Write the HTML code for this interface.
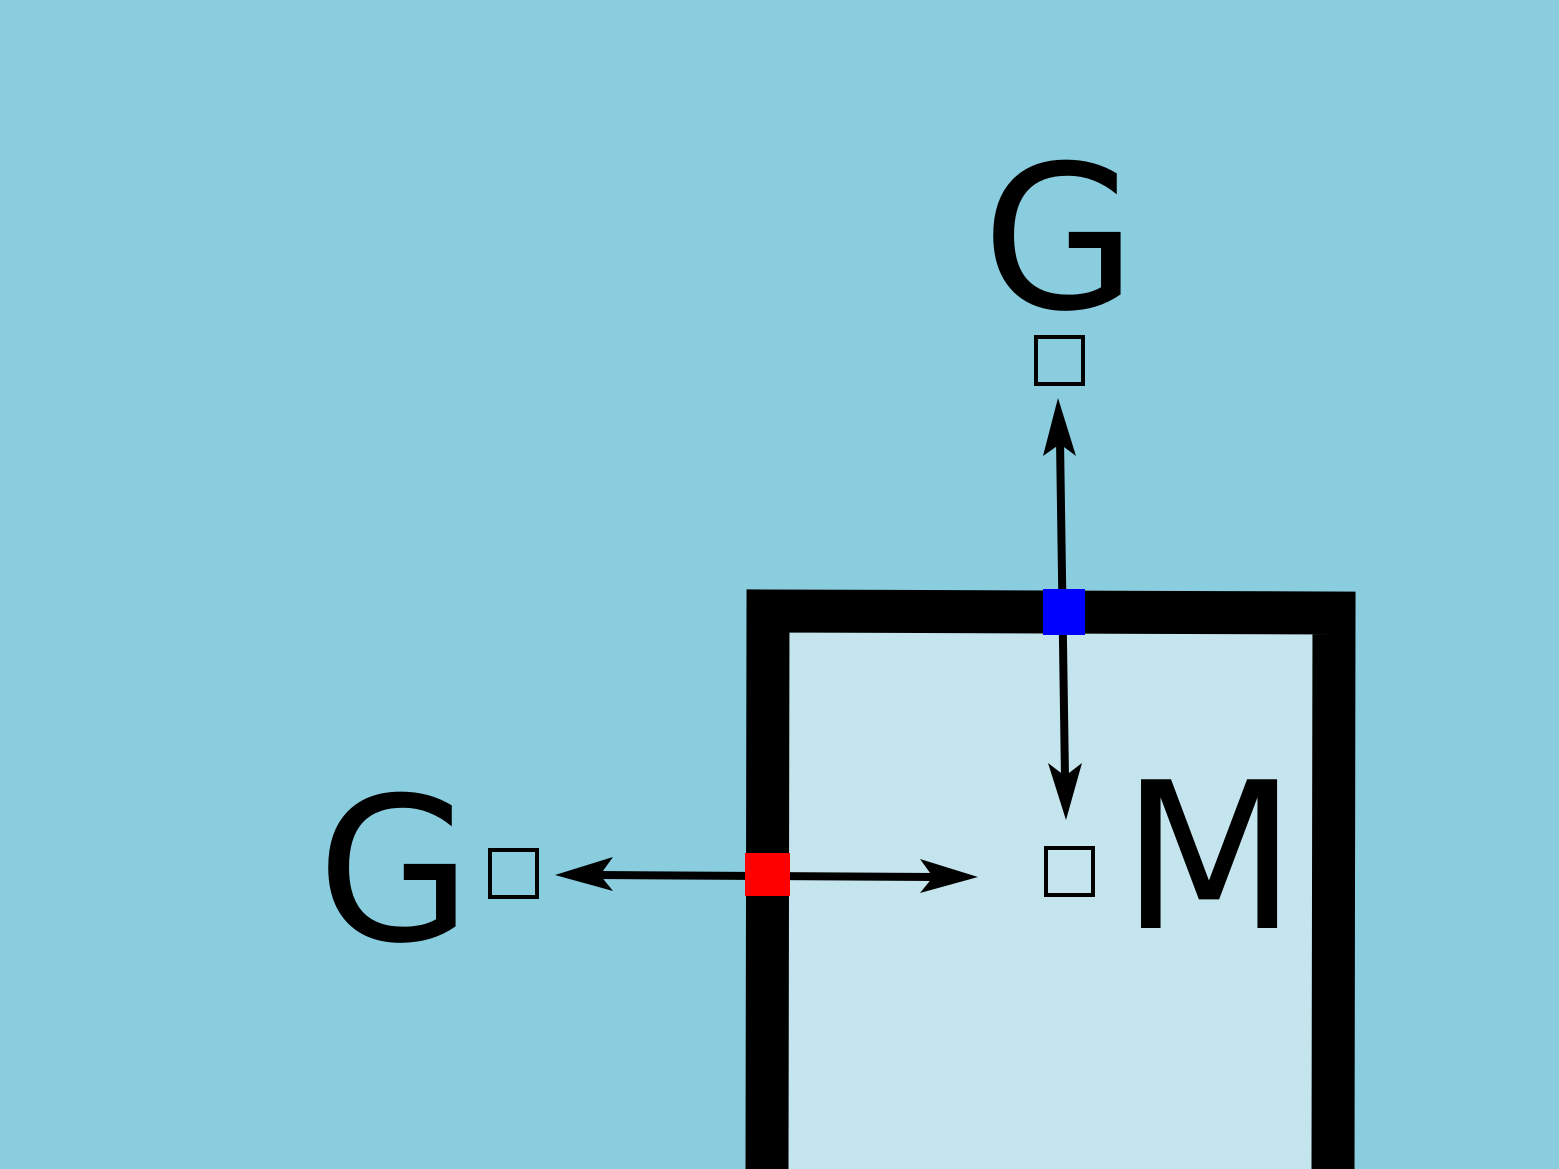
<!DOCTYPE html>
<html><head><meta charset="utf-8"><style>
html,body{margin:0;padding:0;background:#89CDDE;}
svg{display:block;}
text{font-family:"DejaVu Sans","Liberation Sans",sans-serif;fill:#000;}
</style></head><body>
<svg width="1559" height="1169" viewBox="0 0 1559 1169">
<rect x="0" y="0" width="1559" height="1169" fill="#89CDDE"/>
<polygon points="768,611 1334,613 1333,1169 767,1169" fill="#C4E5EE"/>
<polyline points="767,1169 768,611 1334,613 1333,1169" fill="none" stroke="#000" stroke-width="43"/>
<g>
<line x1="1060" y1="440" x2="1065" y2="778" stroke="#000" stroke-width="8"/>
<polygon points="1058,398 1076,456 1060,444 1043,456" fill="#000"/>
<polygon points="1066,820 1048,763 1065,776 1082,763" fill="#000"/>
</g>
<g>
<line x1="598" y1="875" x2="935" y2="877" stroke="#000" stroke-width="8"/>
<polygon points="555,875 613,857 600,875 613,891" fill="#000"/>
<polygon points="978,877 920,859 933,877 920,893" fill="#000"/>
</g>
<rect x="1043" y="589" width="42" height="46" fill="#0000FF"/>
<rect x="745" y="853" width="45" height="43" fill="#FF0000"/>
<text x="982" y="308" font-size="200">G</text>
<rect x="1036" y="337" width="47" height="47" fill="none" stroke="#000" stroke-width="4"/>
<text x="317" y="940" font-size="200">G</text>
<rect x="490" y="850" width="47" height="47" fill="none" stroke="#000" stroke-width="4"/>
<rect x="1046" y="848" width="47" height="47" fill="none" stroke="#000" stroke-width="4"/>
<text x="1121" y="928" font-size="204">M</text>
</svg>
</body></html>
